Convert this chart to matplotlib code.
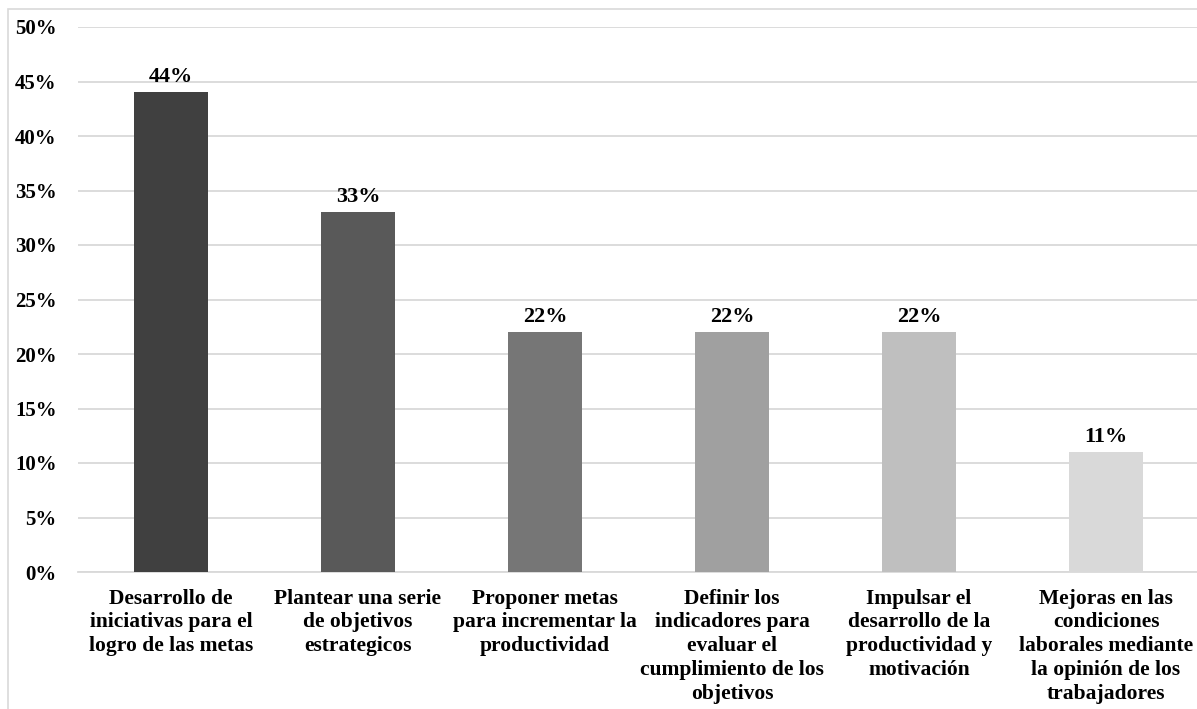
import matplotlib.pyplot as plt
from matplotlib.patches import Rectangle
from matplotlib.ticker import FuncFormatter

### data
categorias = [
    "Desarrollo de\niniciativas para el\nlogro de las metas",
    "Plantear una serie\nde objetivos\nestrategicos",
    "Proponer metas\npara incrementar la\nproductividad",
    "Definir los\nindicadores para\nevaluar el\ncumplimiento de los\nobjetivos",
    "Impulsar el\ndesarrollo de la\nproductividad y\nmotivación",
    "Mejoras en las\ncondiciones\nlaborales mediante\nla opinión de los\ntrabajadores",
]
porcentajes = [44, 33, 22, 22, 22, 11]
colores = ["#404040", "#595959", "#767676", "#a0a0a0", "#bfbfbf", "#d9d9d9"]

plt.rcParams['font.family'] = ['Liberation Serif', 'DejaVu Serif']
plt.rcParams['font.weight'] = 'bold'
plt.rcParams['font.size'] = 15.5

fig = plt.figure(figsize=(11.97, 7.09), dpi=100)
ax = fig.add_axes([77.5 / 1197, 1 - 572 / 709, 1122 / 1197, 545 / 709])

x = range(len(categorias))
barras = ax.bar(x, porcentajes, width=0.4, color=colores, zorder=3)
for b, v in zip(barras, porcentajes):
    ax.annotate(f"{v}%", (b.get_x() + b.get_width() / 2, v), xytext=(0, 4),
                textcoords="offset points", ha="center", va="bottom",
                fontweight="bold", fontsize=16)

ax.set_xlim(-0.5, len(categorias) - 0.5)
ax.set_ylim(0, 50)
ax.set_yticks(range(0, 51, 5))
ax.yaxis.set_major_formatter(FuncFormatter(lambda v, p: f"{int(v)}%"))
ax.set_xticks(list(x))
ax.set_xticklabels(categorias, linespacing=1.25)
ax.tick_params(axis="y", length=0, pad=15, labelsize=15)
ax.tick_params(axis="x", length=0, pad=12)
ax.grid(axis="y", color="#d9d9d9", linewidth=1.3, zorder=0)
for s in ["top", "right", "left"]:
    ax.spines[s].set_visible(False)
ax.spines["bottom"].set_color("#d9d9d9")
ax.spines["bottom"].set_linewidth(1.3)

# light frame round the chart area
fig.patches.append(Rectangle((8 / 1197, -0.05), 1.1, 1 - 9 / 709 + 0.05,
                             transform=fig.transFigure, fill=False,
                             edgecolor="#d9d9d9", linewidth=1.2))

fig.savefig("out.png", dpi=100)
